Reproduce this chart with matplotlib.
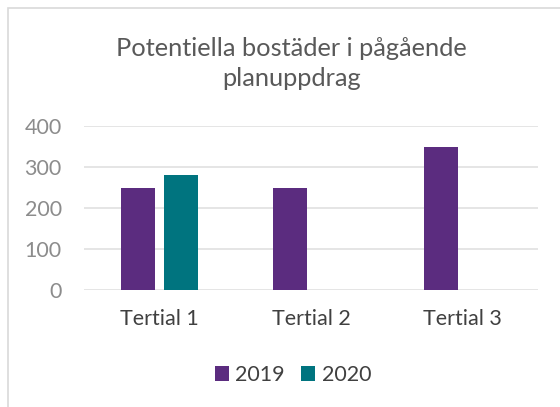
import numpy as np
import matplotlib.pyplot as plt
from matplotlib.patches import Rectangle

plt.rcParams['font.family'] = ['Lato', 'DejaVu Sans']

categories = ['Tertial 1', 'Tertial 2', 'Tertial 3']
series_names = ['2019', '2020']
values_2019 = [250, 250, 350]
values_2020 = [280, 0, 0]
yticks = [0, 100, 200, 300, 400]

purple = '#5b2c7f'
teal = '#00747f'

fig = plt.figure(figsize=(5.6, 4.07), dpi=100)
ax = fig.add_axes([0.15, 0.2875, 0.811, 0.4025])

x = np.arange(len(categories))
w = 0.225
off = 0.142
ax.bar(x - off, values_2019, w, color=purple, label=series_names[0], zorder=3)
ax.bar(x + off, values_2020, w, color=teal, label=series_names[1], zorder=3)

ax.set_xlim(-0.5, 2.5)
ax.set_ylim(0, 400)
ax.set_yticks(yticks)
ax.set_xticks(x)
ax.set_xticklabels(categories, fontsize=15.5, color='#404040')
ax.tick_params(axis='y', labelsize=15.5, labelcolor='#8c8c8c', length=0, pad=16)
ax.tick_params(axis='x', length=0, pad=14)
ax.grid(axis='y', color='#e3e3e3', linewidth=1.3, zorder=0)
for s in ax.spines.values():
    s.set_visible(False)

fig.text(0.52, 0.844, 'Potentiella bostäder i pågående\nplanuppdrag', ha='center', va='center',
         fontsize=18.3, color='#595959', linespacing=1.35)

ax.legend(loc='center', bbox_to_anchor=(0.46, -0.52), ncol=2, frameon=False,
          fontsize=15.5, labelcolor='#404040', handlelength=0.65, handleheight=0.65,
          handletextpad=0.3, columnspacing=0.75)

fig.patches.append(Rectangle((8 / 560, -0.1), 1.2, 1 - 8 / 407 + 0.1, transform=fig.transFigure,
                             fill=False, edgecolor='#d9d9d9', linewidth=1.2))

fig.savefig('out.png', dpi=100)
